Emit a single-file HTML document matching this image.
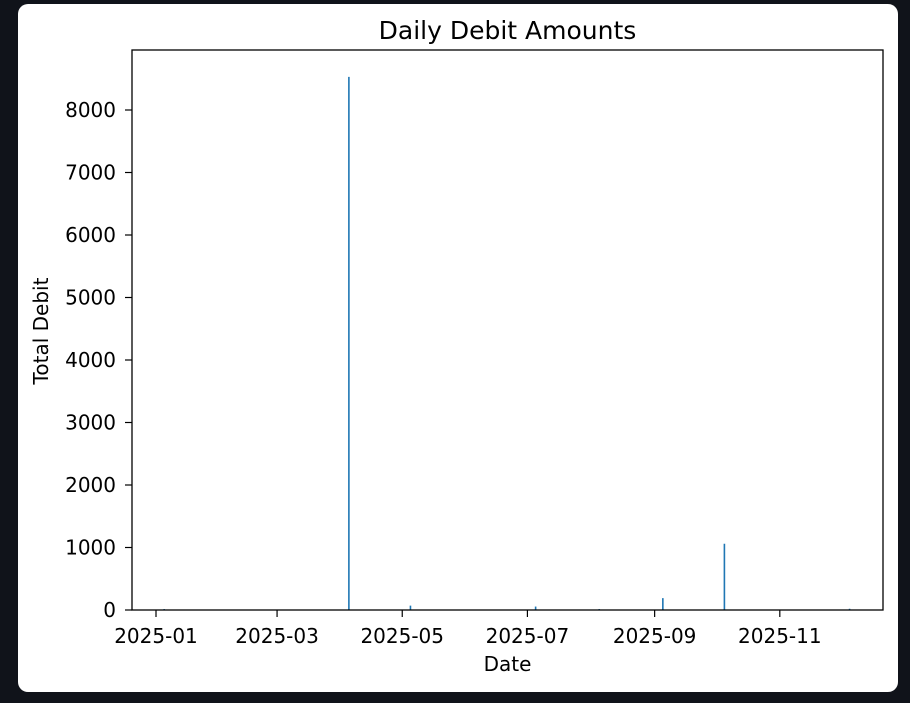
<!DOCTYPE html>
<html><head><meta charset="utf-8"><style>
html,body{margin:0;padding:0;background:#10131a;width:910px;height:703px;overflow:hidden}
#card{position:absolute;left:18px;top:4px;width:880px;height:688px;background:#fff;border-radius:10px}
svg{position:absolute;left:0;top:0}
text{font-family:"DejaVu Sans","Liberation Sans",sans-serif;fill:#000}
</style></head><body>
<div id="card"></div>
<svg id="chart" width="910" height="703"></svg>
<script>
const dates = ["2025-01-05","2025-04-05","2025-05-05","2025-07-05","2025-08-05","2025-09-05","2025-10-05","2025-12-05"];
const debits = [15, 8530, 70, 55, 15, 190, 1060, 20];
const yTicks = [0,1000,2000,3000,4000,5000,6000,7000,8000];
const xTickLabels = ["2025-01","2025-03","2025-05","2025-07","2025-09","2025-11"];

const NS="http://www.w3.org/2000/svg";
const svg=document.getElementById('chart');
const L=132,R=883,T=50,B=610;
const day0=Date.UTC(2025,0,1);
const pxPerDay=2.052, x0=156;
function dayOf(s){const p=s.split('-').map(Number);return (Date.UTC(p[0],p[1]-1,p[2]||1)-day0)/86400000;}
function xs(s){return x0+dayOf(s)*pxPerDay;}
function ys(v){return B-v*0.0625;}
function mk(tag,attrs,txt){const e=document.createElementNS(NS,tag);for(const k in attrs)e.setAttribute(k,attrs[k]);if(txt!==undefined)e.textContent=txt;svg.appendChild(e);return e;}

dates.forEach((d,i)=>{
  const x=xs(d), y=ys(debits[i]);
  const r=mk('rect',{x:x-0.8,y:y,width:1.6,height:B-y,fill:'#1f77b4'});
  
  
});
const fr=mk('rect',{x:L,y:T,width:R-L,height:B-T,fill:'none',stroke:'#000','stroke-width':1.3});



yTicks.forEach(v=>{
  const y=ys(v);
  mk('line',{x1:L-7,x2:L,y1:y,y2:y,stroke:'#000','stroke-width':1.2});
  const t=mk('text',{x:L-16,y:y+7,'text-anchor':'end','font-size':20},String(v));
  
  
});
xTickLabels.forEach(s=>{
  const x=xs(s);
  mk('line',{x1:x,x2:x,y1:B,y2:B+7,stroke:'#000','stroke-width':1.2});
  const t=mk('text',{x:x,y:643,'text-anchor':'middle','font-size':20},s);
  
  
});
const ti=mk('text',{x:(L+R)/2,y:39,'text-anchor':'middle','font-size':25},'Daily Debit Amounts');


const xl=mk('text',{x:(L+R)/2,y:671,'text-anchor':'middle','font-size':20},'Date');


const yl=mk('text',{x:0,y:0,'text-anchor':'middle','font-size':20,transform:'translate(48,331) rotate(-90)'},'Total Debit');


</script>
</body></html>
